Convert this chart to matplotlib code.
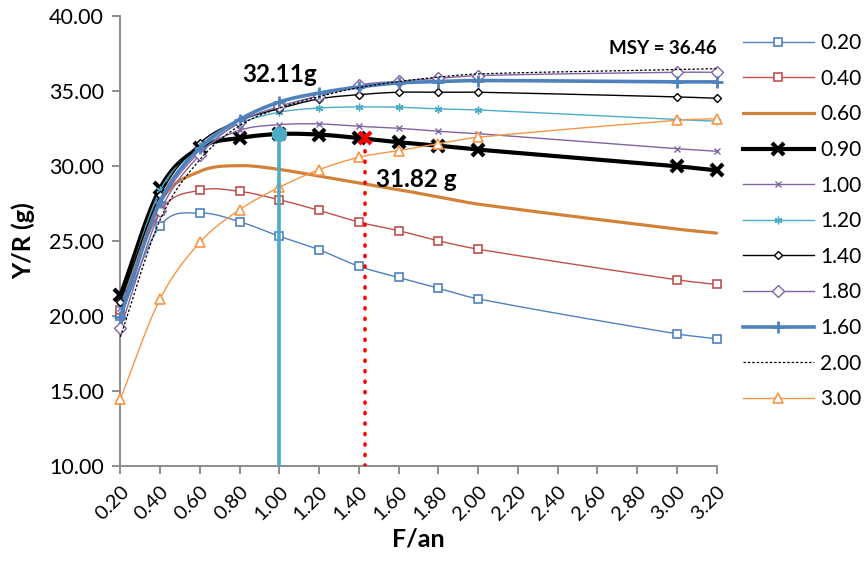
import numpy as np
import matplotlib
matplotlib.use("Agg")
import matplotlib.pyplot as plt
from matplotlib.lines import Line2D

plt.rcParams['font.family'] = ['Lato', 'DejaVu Sans']

# ---------------- data ----------------
f_values = [0.2, 0.4, 0.6, 0.8, 1.0, 1.2, 1.4, 1.6, 1.8, 2.0, 3.0, 3.2]
x_ticks = [0.2, 0.4, 0.6, 0.8, 1.0, 1.2, 1.4, 1.6, 1.8, 2.0, 2.2, 2.4, 2.6, 2.8, 3.0, 3.2]
y_ticks = [10, 15, 20, 25, 30, 35, 40]

labels = ["0.20", "0.40", "0.60", "0.90", "1.00", "1.20", "1.40", "1.80", "1.60", "2.00", "3.00"]
s020 = [20.0, 26.0, 26.84, 26.27, 25.3, 24.4, 23.3, 22.56, 21.84, 21.13, 18.8, 18.47]
s040 = [20.4, 26.95, 28.36, 28.29, 27.73, 27.02, 26.24, 25.67, 25.0, 24.44, 22.4, 22.09]
s060 = [20.8, 27.6, 29.62, 30.0, 29.75, 29.3, 28.85, 28.4, 27.92, 27.44, 25.78, 25.51]
s090 = [21.37, 28.5, 31.2, 31.84, 32.11, 32.07, 31.84, 31.56, 31.33, 31.07, 29.96, 29.69]
s100 = [20.5, 27.4, 30.9, 32.35, 32.73, 32.78, 32.62, 32.49, 32.29, 32.13, 31.13, 30.96]
s120 = [20.7, 28.36, 31.1, 32.8, 33.56, 33.84, 33.91, 33.89, 33.78, 33.71, 33.07, 32.96]
s140 = [20.95, 28.03, 31.5, 33.0, 33.8, 34.45, 34.73, 34.89, 34.89, 34.89, 34.58, 34.49]
s180 = [19.16, 26.95, 30.73, 32.9, 33.95, 34.65, 35.37, 35.62, 35.82, 36.0, 36.22, 36.22]
s160 = [19.94, 27.6, 31.18, 33.07, 34.24, 34.84, 35.24, 35.51, 35.6, 35.67, 35.58, 35.58]
s200 = [18.6, 26.4, 30.4, 32.67, 33.84, 34.6, 35.2, 35.6, 35.9, 36.11, 36.4, 36.46]
s300 = [14.47, 21.13, 24.89, 27.07, 28.56, 29.73, 30.56, 31.0, 31.47, 31.89, 33.02, 33.13]

series = [s020, s040, s060, s090, s100, s120, s140, s180, s160, s200, s300]

opt_f, opt_y = 1.0, 32.11       # optimum for the 0.90 curve
cur_f, cur_y = 1.43, 31.82      # current situation
msy_value = 36.46

# ---------------- styles ----------------
styles = [
    dict(color='#4F81BD', lw=1.0, marker='s', ms=5.5, mfc='white', mew=1.2),
    dict(color='#C0504D', lw=1.0, marker='s', ms=5.5, mfc='white', mew=1.2),
    dict(color='#D2813A', lw=2.3, marker=None),
    dict(color='black', lw=3.0, marker='x', ms=9, mfc='black', mew=3.0),
    dict(color='#8064A2', lw=1.0, marker='x', ms=4.5, mfc='#8064A2', mew=1.0),
    dict(color='#4BACC6', lw=1.0, marker=(6, 2, 0), ms=5.5, mfc='#4BACC6', mew=1.0),
    dict(color='black', lw=1.0, marker='D', ms=4.5, mfc='white', mew=1.0),
    dict(color='#8064A2', lw=1.0, marker='D', ms=6.5, mfc='white', mew=1.0),
    dict(color='#4F81BD', lw=2.6, marker='+', ms=8, mfc='#4F81BD', mew=2.0),
    dict(color='black', lw=0.9, marker=None, ls=(0, (2, 1.5))),
    dict(color='#F79646', lw=1.0, marker='^', ms=7.5, mfc='white', mew=1.2),
]


def smooth(xs, ys, n=30):
    """Cubic Hermite curve through the points (for smooth line rendering)."""
    x = np.asarray(xs, float)
    y = np.asarray(ys, float)
    m = len(x)
    d = np.empty(m)
    d[0] = (y[1] - y[0]) / (x[1] - x[0])
    d[-1] = (y[-1] - y[-2]) / (x[-1] - x[-2])
    for i in range(1, m - 1):
        d[i] = (y[i + 1] - y[i - 1]) / (x[i + 1] - x[i - 1])
    ox, oy = [x[0]], [y[0]]
    for i in range(m - 1):
        h = x[i + 1] - x[i]
        t = np.linspace(0, 1, n)[1:]
        h00 = 2 * t ** 3 - 3 * t ** 2 + 1
        h10 = t ** 3 - 2 * t ** 2 + t
        h01 = -2 * t ** 3 + 3 * t ** 2
        h11 = t ** 3 - t ** 2
        ox.extend(x[i] + t * h)
        oy.extend(h00 * y[i] + h10 * h * d[i] + h01 * y[i + 1] + h11 * h * d[i + 1])
    return np.array(ox), np.array(oy)


W, H = 864, 569
fig = plt.figure(figsize=(W / 100, H / 100), dpi=100)
ax = fig.add_axes([120.4 / W, 1 - 466 / H, (716.5 - 120.4) / W, (466 - 15.5) / H])
ax.set_xlim(0.2, 3.2)
ax.set_ylim(10, 40)

handles = []
for k, (ys, st, lab) in enumerate(zip(series, styles, labels)):
    sx, sy = smooth(f_values, ys)
    ls = st.get('ls', '-')
    ax.plot(sx, sy, color=st['color'], lw=st['lw'], ls=ls, zorder=3 + k,
            solid_capstyle='round', clip_on=False)
    if st['marker'] is not None:
        ax.plot(f_values, ys, ls='none', marker=st['marker'], ms=st['ms'],
                mfc=st['mfc'], mec=st['color'], mew=st['mew'], zorder=3 + k, clip_on=False)
        h = Line2D([], [], color=st['color'], lw=st['lw'], ls=ls, marker=st['marker'],
                   ms=st['ms'], mfc=st['mfc'], mec=st['color'], mew=st['mew'])
    else:
        h = Line2D([], [], color=st['color'], lw=st['lw'], ls=ls)
    handles.append(h)

# optimum vertical line (cyan) with dot
ax.plot([opt_f, opt_f], [10, opt_y], color='#4BACC6', lw=2.6, zorder=20, solid_capstyle='butt')
ax.plot([opt_f], [opt_y], marker='o', ms=10, color='#4BACC6', zorder=21)
# current situation (red dotted)
ax.plot([cur_f, cur_f], [10, cur_y], color='red', lw=2.6, ls=(0, (0.3, 2.6)),
        dash_capstyle='round', zorder=20)
ax.plot([cur_f], [cur_y], marker='x', ms=9, mew=3, color='red', zorder=21)

# annotations
ax.text(opt_f, 35.6, f"{opt_y:.2f}g", ha='center', va='baseline', fontsize=17.5,
        fontweight='bold', zorder=30)
ax.text(1.487, 28.55, f"{cur_y:.2f} g", ha='left', va='baseline', fontsize=17.5,
        fontweight='bold', zorder=30)
ax.text(3.2, 37.45, f"MSY = {msy_value:.2f}", ha='right', va='baseline', fontsize=13.5,
        fontweight='bold', zorder=30)

# axes styling
for sp in ['top', 'right']:
    ax.spines[sp].set_visible(False)
for sp in ['left', 'bottom']:
    ax.spines[sp].set_color('#8C8C8C')
    ax.spines[sp].set_linewidth(1.4)
ax.set_xticks(x_ticks)
ax.set_xticklabels([f"{v:.2f}" for v in x_ticks], rotation=45, ha='right',
                   rotation_mode='anchor', fontsize=14.5)
ax.set_yticks(y_ticks)
ax.set_yticklabels([f"{v:.2f}" for v in y_ticks], fontsize=15.5)
ax.tick_params(axis='both', direction='out', length=6, width=1.4, color='#8C8C8C')
ax.tick_params(axis='x', pad=6)
ax.tick_params(axis='y', pad=6)

ax.set_xlabel("F/an", fontsize=18, fontweight='bold', labelpad=3)
ax.set_ylabel("Y/R (g)", fontsize=18, fontweight='bold', labelpad=10)

fig.legend(handles, labels, loc='upper left', bbox_to_anchor=(743 / W, 1 - 33 / H),
           frameon=False, fontsize=15, handlelength=3.4, handletextpad=0.3,
           labelspacing=0.75, borderpad=0, borderaxespad=0, numpoints=1)

fig.savefig("out.png", dpi=100)
